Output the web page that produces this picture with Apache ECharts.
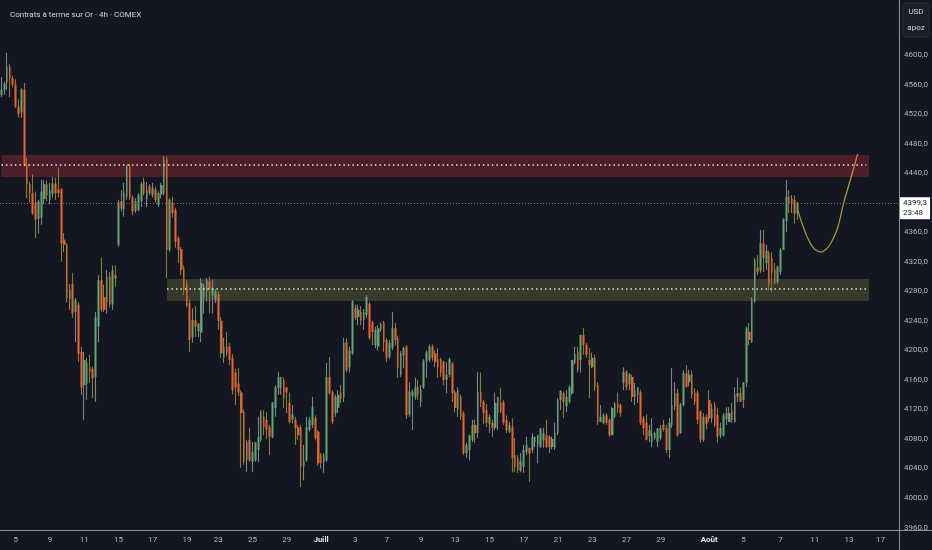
<!DOCTYPE html>
<html><head><meta charset="utf-8">
<script src="https://cdn.jsdelivr.net/npm/echarts@6/dist/echarts.min.js"></script>
<style>html,body{margin:0;padding:0;background:#131722}#c{width:932px;height:550px}</style>
</head><body><div id="c"></div>
<script>
// [open, close, low, high] per 4h candle
const ohlc = [
[4546,4553,4543,4570],[4553,4561,4546,4564],[4563,4584,4553,4603],[4584,4569,4543,4588],[4569,4560,4556,4572],
[4560,4530,4528,4567],[4530,4520,4515,4540],[4522,4553,4515,4555],[4553,4451,4450,4562],[4451,4425,4406,4461],
[4425,4413,4400,4428],[4413,4386,4383,4438],[4400,4377,4352,4415],[4378,4402,4358,4404],[4380,4415,4370,4431],
[4405,4425,4398,4431],[4425,4410,4402,4430],[4404,4417,4398,4427],[4412,4426,4407,4435],[4426,4413,4404,4434],
[4418,4413,4407,4448],[4418,4345,4320,4420],[4350,4343,4333,4359],[4343,4271,4265,4345],[4270,4282,4255,4290],
[4290,4250,4244,4305],[4252,4268,4211,4271],[4262,4195,4184,4265],[4198,4150,4140,4205],[4153,4187,4106,4198],
[4155,4183,4133,4190],[4177,4171,4156,4194],[4175,4162,4135,4178],[4164,4245,4130,4252],[4232,4295,4211,4302],
[4295,4255,4252,4326],[4272,4255,4252,4289],[4265,4300,4250,4309],[4300,4262,4258,4306],[4262,4308,4255,4315],
[4302,4297,4286,4315],
[4343,4400,4340,4404],[4402,4392,4388,4417],[4391,4413,4381,4427],[4408,4449,4404,4451],[4449,4407,4404,4453],
[4407,4388,4383,4410],[4389,4402,4386,4406],[4390,4410,4388,4413],[4402,4425,4394,4428],[4429,4413,4410,4434],
[4405,4417,4394,4428],[4422,4413,4410,4425],[4410,4420,4407,4427],[4418,4404,4400,4422],[4397,4413,4394,4415],
[4411,4424,4406,4427],[4413,4458,4410,4463],[4460,4336,4298,4463],[4336,4404,4333,4406],[4400,4386,4380,4408],
[4390,4347,4339,4393],[4352,4336,4318,4355],[4337,4309,4302,4340],[4311,4282,4275,4315],[4290,4260,4258,4295],
[4264,4214,4198,4268],[4218,4241,4210,4257],[4241,4232,4218,4260],[4226,4236,4218,4237],[4224,4291,4211,4298],
[4272,4285,4250,4290],[4280,4295,4266,4298],[4293,4283,4250,4300],[4274,4285,4250,4296],[4268,4280,4264,4283],
[4276,4240,4228,4280],[4240,4196,4190,4245],[4190,4205,4183,4217],[4205,4196,4192,4225],[4205,4187,4180,4210],
[4190,4146,4140,4195],
[4170,4150,4126,4175],[4155,4143,4138,4176],[4143,4115,4041,4146],[4117,4049,4045,4120],[4051,4076,4035,4079],
[4079,4051,4049,4095],[4049,4062,4035,4076],[4051,4075,4049,4076],[4065,4083,4049,4110],[4079,4117,4076,4119],
[4110,4096,4085,4119],[4106,4093,4080,4116],[4096,4083,4058,4099],[4083,4129,4081,4130],[4122,4150,4110,4153],
[4149,4164,4140,4171],[4150,4164,4140,4164],[4160,4135,4122,4163],[4150,4143,4115,4150],[4129,4103,4101,4143],
[4106,4113,4101,4126],[4106,4095,4072,4110],[4096,4085,4079,4099],[4096,4042,4015,4099],[4042,4051,4024,4072],
[4051,4096,4049,4110],[4092,4106,4090,4110],[4099,4123,4095,4137],[4108,4081,4078,4112],[4090,4047,4044,4092],
[4058,4047,4040,4061],[4048,4058,4034,4061],[4051,4164,4049,4183],[4164,4142,4140,4191],[4143,4103,4100,4146],
[4115,4137,4110,4140],[4122,4140,4115,4146],[4143,4135,4129,4153],[4136,4210,4130,4217],[4211,4173,4170,4216],
[4177,4200,4170,4205],[4196,4266,4194,4268],[4257,4244,4241,4262],[4245,4255,4234,4262],[4252,4240,4234,4260],
[4241,4252,4228,4256],[4248,4272,4244,4275],[4263,4217,4214,4266],[4238,4225,4207,4240],[4207,4228,4203,4232],
[4205,4230,4200,4234],[4228,4236,4225,4238],[4238,4211,4198,4240],[4214,4190,4184,4217],[4191,4210,4188,4214],
[4203,4230,4200,4252],[4230,4214,4207,4237],[4216,4176,4163,4220],[4167,4196,4164,4199],[4193,4203,4176,4205],
[4205,4112,4107,4207],[4113,4144,4110,4157],[4138,4144,4092,4147],[4137,4150,4133,4163],[4150,4140,4133,4160],
[4130,4147,4123,4153],[4150,4186,4148,4188],[4185,4197,4163,4200],[4187,4205,4184,4208],[4205,4190,4186,4208],
[4196,4184,4177,4200],[4188,4177,4163,4203],[4188,4170,4164,4190],[4185,4160,4153,4186],[4160,4167,4142,4184],
[4167,4188,4164,4190],[4182,4142,4130,4184],[4143,4122,4116,4146],[4120,4146,4110,4150],[4137,4110,4106,4140],
[4115,4061,4058,4118],[4061,4072,4054,4075],[4065,4085,4051,4086],[4079,4099,4076,4106],[4099,4088,4075,4106],
[4088,4144,4081,4171],[4144,4129,4123,4170],[4130,4115,4100,4133],[4119,4102,4096,4127],[4100,4110,4088,4113],
[4102,4095,4083,4106],[4095,4129,4092,4143],[4116,4137,4092,4137],[4129,4117,4115,4149],[4130,4102,4099,4133],
[4106,4092,4088,4112],[4090,4099,4088,4103],[4096,4054,4035,4108],[4058,4042,4035,4081],[4054,4038,4034,4058],
[4037,4050,4035,4061],[4042,4065,4034,4072],[4062,4072,4058,4083],[4068,4060,4022,4068],[4065,4083,4061,4088],
[4076,4083,4069,4083],[4072,4085,4047,4086],[4069,4094,4068,4095],[4078,4088,4068,4095],[4085,4069,4068,4106],
[4083,4069,4061,4085],[4069,4080,4066,4083],[4068,4088,4065,4102],[4088,4133,4085,4135],[4133,4145,4119,4146],
[4142,4130,4108,4144],[4124,4137,4116,4146],[4130,4150,4128,4153],[4142,4187,4140,4187],[4183,4195,4181,4205],
[4198,4173,4170,4205],
[4187,4221,4170,4221],[4221,4207,4194,4230],[4207,4194,4190,4210],[4187,4180,4135,4203],[4177,4190,4176,4197],
[4190,4150,4145,4194],[4153,4103,4099,4157],[4103,4110,4103,4126],[4102,4112,4100,4115],[4112,4102,4099,4115],
[4106,4085,4083,4108],[4085,4122,4085,4123],[4110,4128,4108,4130],[4128,4122,4115,4143],[4126,4115,4110,4128],
[4156,4171,4146,4177],[4171,4150,4146,4173],[4154,4168,4146,4169],[4164,4137,4130,4167],[4137,4145,4126,4156],
[4140,4150,4129,4150],[4143,4102,4099,4147],[4108,4095,4085,4111],[4102,4079,4078,4113],[4084,4092,4076,4099],
[4076,4088,4069,4108],[4081,4088,4079,4090],[4076,4094,4069,4095],[4081,4095,4078,4099],[4099,4093,4090,4106],
[4095,4065,4061,4099],[4065,4102,4054,4108],[4099,4126,4095,4176],[4124,4142,4119,4157],[4142,4085,4083,4148],
[4088,4127,4087,4129],[4126,4169,4124,4173],[4169,4150,4150,4180],[4157,4167,4151,4174],[4168,4140,4135,4173],
[4143,4130,4126,4149],[4143,4106,4100,4146],[4117,4079,4075,4119],[4079,4110,4076,4115],[4110,4100,4093,4113],
[4133,4108,4103,4146],[4108,4120,4102,4128],[4126,4099,4096,4130],[4113,4083,4075,4122],[4085,4095,4081,4102],
[4085,4112,4083,4115],[4107,4115,4099,4123],[4103,4115,4103,4123],[4118,4106,4102,4129],[4103,4140,4102,4150],
[4137,4142,4130,4163],[4142,4130,4130,4150],[4133,4156,4122,4157],[4156,4230,4150,4232],[4225,4214,4207,4237],
[4211,4270,4210,4272],[4266,4322,4264,4325],[4312,4306,4302,4329],[4308,4345,4305,4363],[4345,4325,4306,4363],
[4318,4335,4309,4343],[4332,4289,4281,4335],[4325,4305,4279,4333],[4309,4291,4289,4318],[4293,4313,4290,4315],
[4306,4336,4302,4339],[4336,4377,4336,4379],[4375,4408,4360,4431],[4408,4400,4386,4417],[4400,4406,4386,4410],
[4404,4385,4372,4410],[4386,4399.3,4377,4401]
];
// x-axis tick labels: [category index, text]
const tickLabels = [[5,'5'],[17,'9'],[29,'11'],[41,'15'],[53,'17'],[65,'19'],[76,'23'],[88,'25'],[100,'29'],
[112,'Juill'],[124,'3'],[135,'7'],[147,'9'],[159,'13'],[171,'15'],[183,'17'],[195,'21'],[207,'23'],[219,'27'],
[231,'29'],[248,'Août'],[260,'5'],[273,'7'],[285,'11'],[297,'13'],[308,'17']];
const monthLabels = ['Juill','Août'];
const categoryCount = 315;
const yTicks = [3960,4000,4040,4080,4120,4160,4200,4240,4280,4320,4360,4400,4440,4480,4520,4560,4600];
const yMin = 3956.7, yMax = 4674.5;
const resistanceZone = {from: 0, to: 304, low: 4434.8, high: 4464.6, level: 4451};
const supportZone = {from: 58, to: 304, low: 4266.8, high: 4296.6, level: 4283};
const levelLineEnd = 303;
const lastPrice = 4399.3;
const lastTime = '23:48';
// projected path drawn on the chart: [category index, price]
const projection = [[279,4390],[281,4367],[283,4348],[285,4337],[287,4333],[289,4337],[291,4348],[293,4366],
[295,4398],[297,4425],[299,4452],[300,4466]];
const title = 'Contrats à terme sur Or · 4h · COMEX';

const FONT = 'Roboto, "Noto Sans", sans-serif';
const labelMap = {};
tickLabels.forEach(([i, t]) => { labelMap[i] = t; });
const categories = Array.from({length: categoryCount}, (_, i) => 'c' + i);
const bodies = ohlc.map(([o, c]) => [o, c, Math.min(o, c), Math.max(o, c)]);
const fmt = v => v.toFixed(1).replace('.', ',');

const chart = echarts.init(document.getElementById('c'));
chart.setOption({
  animation: false,
  backgroundColor: '#131722',
  title: {text: title, left: 5, top: 6, textStyle: {color: '#d1d4dc', fontSize: 8, fontWeight: 'normal', fontFamily: FONT}},
  grid: {left: 0, right: 33, top: 0, bottom: 20},
  xAxis: {
    type: 'category', data: categories, boundaryGap: true,
    axisLine: {show: true, lineStyle: {color: '#8e919b', width: 1}},
    axisTick: {show: false}, splitLine: {show: false},
    axisLabel: {
      interval: (i) => labelMap[i] !== undefined,
      formatter: (v, i) => {
        const t = labelMap[i] || '';
        return monthLabels.includes(t) ? '{m|' + t + '}' : t;
      },
      color: '#b2b5be', fontSize: 8, fontFamily: FONT, margin: 6,
      rich: {m: {color: '#e0e3eb', fontWeight: 'bold', fontSize: 8, fontFamily: FONT}}
    }
  },
  yAxis: {
    type: 'value', position: 'right', min: yMin, max: yMax,
    axisLine: {show: true, lineStyle: {color: '#8e919b', width: 1}},
    axisTick: {show: false}, splitLine: {show: false},
    axisLabel: {customValues: yTicks, formatter: fmt, color: '#b2b5be', fontSize: 8, fontFamily: FONT, margin: 5}
  },
  series: [
    {
      type: 'candlestick', name: 'wick', data: ohlc, barWidth: 1, z: 2,
      itemStyle: {color: '#7d838d', color0: '#8a7d2a', borderColor: '#7d838d', borderColor0: '#8a7d2a', borderColorDoji: '#7d838d', borderWidth: 1.1},
      markArea: {
        silent: true,
        data: [
          [{xAxis: resistanceZone.from, yAxis: resistanceZone.high, itemStyle: {color: 'rgba(242,54,69,0.26)'}}, {xAxis: resistanceZone.to, yAxis: resistanceZone.low}],
          [{xAxis: supportZone.from, yAxis: supportZone.high, itemStyle: {color: 'rgba(205,190,90,0.2)'}}, {xAxis: supportZone.to, yAxis: supportZone.low}]
        ]
      },
      markLine: {
        silent: true, symbol: ['none', 'none'], label: {show: false},
        data: [
          [{coord: [resistanceZone.from, resistanceZone.level], lineStyle: {color: '#e6e6e6', width: 1.5, type: [1.5, 3]}}, {coord: [levelLineEnd, resistanceZone.level]}],
          [{coord: [supportZone.from, supportZone.level], lineStyle: {color: '#e6e6e6', width: 1.5, type: [1.5, 3]}}, {coord: [levelLineEnd, supportZone.level]}],
          {yAxis: lastPrice, lineStyle: {color: '#6f727c', width: 1, type: [1, 2]},
           label: {show: true, position: 'end', distance: 1, offset: [0, 5], formatter: fmt(lastPrice) + '\n' + lastTime,
             backgroundColor: '#ffffff', color: '#131722', fontSize: 8, lineHeight: 10, fontFamily: FONT, padding: [1, 3, 1, 3], align: 'left'}}
        ]
      }
    },
    {
      type: 'candlestick', name: 'body', data: bodies, barWidth: 2.2, z: 3,
      itemStyle: {color: '#62a56f', color0: '#ef6230', borderColor: '#62a56f', borderColor0: '#ef6230', borderColorDoji: '#62a56f', borderWidth: 0}
    },
    {
      type: 'line', name: 'projection', data: projection, smooth: true, showSymbol: false, z: 4,
      lineStyle: {width: 1.3, color: new echarts.graphic.LinearGradient(0, 0, 0, 1, [
        {offset: 0, color: '#e0693a'}, {offset: 0.3, color: '#b19a36'}, {offset: 1, color: '#9a8e2e'}])}
    }
  ],
  graphic: [
    {type: 'rect', shape: {x: 900, y: 530, width: 32, height: 20}, style: {fill: '#131722'}, z: 100},
    {type: 'line', shape: {x1: 899, y1: 530.5, x2: 932, y2: 530.5}, style: {stroke: '#8e919b', lineWidth: 1}, z: 101},
    {type: 'line', shape: {x1: 899.5, y1: 529, x2: 899.5, y2: 550}, style: {stroke: '#8e919b', lineWidth: 1}, z: 101},
    {type: 'rect', shape: {x: 903, y: 3, width: 26, height: 34, r: 3}, style: {fill: '#1a1e29', stroke: '#2a2e39', lineWidth: 1}, z: 100},
    {type: 'text', x: 916, y: 12, style: {text: 'USD', fill: '#d1d4dc', fontSize: 8, fontFamily: FONT, align: 'center', verticalAlign: 'middle'}, z: 101},
    {type: 'text', x: 916, y: 28, style: {text: 'apoz', fill: '#d1d4dc', fontSize: 8, fontFamily: FONT, align: 'center', verticalAlign: 'middle'}, z: 101}
  ]
});
</script></body></html>
